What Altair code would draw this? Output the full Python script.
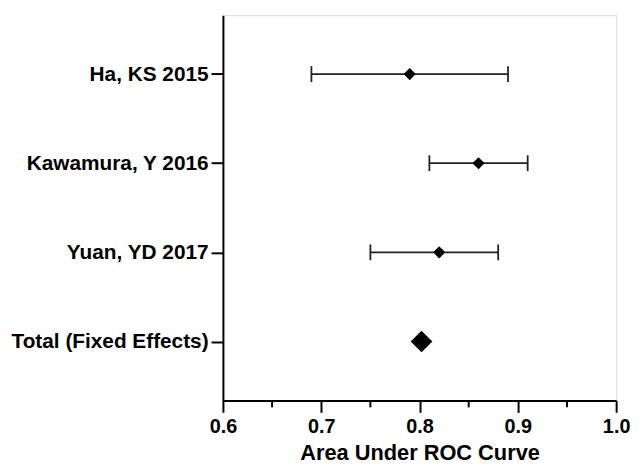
import altair as alt
import pandas as pd

studies = ["Ha, KS 2015", "Kawamura, Y 2016", "Yuan, YD 2017"]
auc = [0.79, 0.86, 0.82]
ci_low = [0.69, 0.81, 0.75]
ci_high = [0.89, 0.91, 0.88]

total_label = ["Total (Fixed Effects)"]
total_auc = [0.802]

major_ticks = [0.6, 0.7, 0.8, 0.9, 1.0]
minor_ticks = [0.65, 0.75, 0.85, 0.95]

order = studies + total_label

df = pd.DataFrame({"study": studies, "auc": auc, "lo": ci_low, "hi": ci_high})
df_total = pd.DataFrame({"study": total_label, "auc": total_auc})
df_minor = pd.DataFrame({"v": minor_ticks})

FONT = "Arial"

x_scale = alt.Scale(domain=[0.6, 1.0], nice=False, zero=False)
y_scale = alt.Scale(domain=order, type="point", padding=0.661)

x_axis = alt.Axis(
    values=major_ticks, format=".1f", title="Area Under ROC Curve",
    grid=False, domainColor="black", domainWidth=2, tickColor="black",
    tickWidth=2, tickSize=12, labelFont=FONT, labelFontSize=20,
    labelFontWeight="bold", labelColor="black", labelPadding=4,
    titleFont=FONT, titleFontSize=22, titleFontWeight="bold",
    titleColor="black", titlePadding=7, labelFlush=False,
)
y_axis = alt.Axis(
    title=None, grid=False, domainColor="black", domainWidth=2,
    tickColor="black", tickWidth=2, tickSize=12, labelFont=FONT,
    labelFontSize=21, labelFontWeight="bold", labelColor="black",
    labelPadding=3, labelLimit=300,
)

base = alt.Chart(df)
BAR = "#222222"

ci = base.mark_rule(color=BAR, strokeWidth=1.8).encode(
    x=alt.X("lo:Q", scale=x_scale, axis=x_axis),
    x2="hi:Q",
    y=alt.Y("study:N", scale=y_scale, axis=y_axis, sort=order),
)
cap_lo = base.mark_tick(color=BAR, thickness=1.8, size=16, opacity=1).encode(
    x=alt.X("lo:Q", scale=x_scale),
    y=alt.Y("study:N", scale=y_scale, sort=order),
)
cap_hi = base.mark_tick(color=BAR, thickness=1.8, size=16, opacity=1).encode(
    x=alt.X("hi:Q", scale=x_scale),
    y=alt.Y("study:N", scale=y_scale, sort=order),
)
pts = base.mark_point(shape="diamond", filled=True, color="black", size=150, opacity=1).encode(
    x=alt.X("auc:Q", scale=x_scale),
    y=alt.Y("study:N", scale=y_scale, sort=order),
)
tot = alt.Chart(df_total).mark_point(shape="diamond", filled=True, color="black", size=480, opacity=1).encode(
    x=alt.X("auc:Q", scale=x_scale),
    y=alt.Y("study:N", scale=y_scale, sort=order),
)
minor = alt.Chart(df_minor).mark_rule(color="black", strokeWidth=2).encode(
    x=alt.X("v:Q", scale=x_scale),
    y=alt.value(389),
    y2=alt.value(396),
)

chart = alt.layer(ci, cap_lo, cap_hi, pts, tot, minor).properties(
    width=397, height=389,
    autosize=alt.AutoSizeParams(type="none"),
    padding={"left": 217, "top": 5, "right": 15, "bottom": 64},
).configure_view(stroke=None).configure(background="white")

chart.save("out.html", embed_options={"renderer": "svg", "actions": False})
